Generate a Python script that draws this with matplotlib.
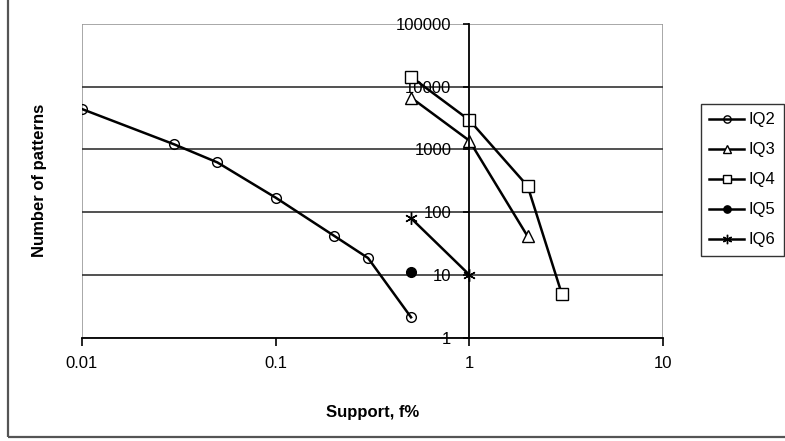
import matplotlib.pyplot as plt
from matplotlib.patches import Rectangle
from matplotlib.ticker import FixedLocator, FixedFormatter

plt.rcParams['font.family'] = ['Liberation Sans', 'DejaVu Sans']

# data (support in %, number of patterns)
iq2_x = [0.01, 0.03, 0.05, 0.1, 0.2, 0.3, 0.5]
iq2_y = [4400, 1200, 620, 170, 42, 18.5, 2.1]
iq3_x = [0.5, 1, 2]
iq3_y = [6700, 1380, 41]
iq4_x = [0.5, 1, 2, 3]
iq4_y = [14400, 2930, 260, 5]
iq5_x = [0.5]
iq5_y = [11]
iq6_x = [0.5, 1]
iq6_y = [80, 10]

x_ticks = [0.01, 0.1, 1, 10]
x_labels = ['0.01', '0.1', '1', '10']
y_ticks = [1, 10, 100, 1000, 10000, 100000]
y_labels = ['1', '10', '100', '1000', '10000', '100000']

W, H = 785, 441
fig = plt.figure(figsize=(W / 100, H / 100), dpi=100)

# outer chart frame (top and right edges are cut off in the original)
fig.patches.append(Rectangle((8 / W, 4 / H), 1.2, 1.2, transform=fig.transFigure,
                             fill=False, edgecolor='#555555', lw=1.6))

ax = fig.add_axes([82 / W, 1 - 337.5 / H, (663 - 82) / W, (337.5 - 24) / H])
ax.set_xscale('log')
ax.set_yscale('log')
ax.set_xlim(0.01, 10)
ax.set_ylim(1, 100000)

line_kw = dict(color='black', lw=1.8, mec='black', mew=1.0)
ax.plot(iq2_x, iq2_y, marker='o', ms=7, mfc='none', label='IQ2', **line_kw)
ax.plot(iq3_x, iq3_y, marker='^', ms=8, mfc='white', label='IQ3', **line_kw)
ax.plot(iq4_x, iq4_y, marker='s', ms=8, mfc='white', label='IQ4', **line_kw)
ax.plot(iq5_x, iq5_y, marker='o', ms=7, mfc='black', label='IQ5', **line_kw)
ax.plot(iq6_x, iq6_y, marker=(6, 2, 0), ms=9, label='IQ6', **line_kw)

# plot area border
ax.add_patch(Rectangle((0, 0), 1, 1, transform=ax.transAxes, fill=False,
                       edgecolor='#9a9a9a', lw=1.2, zorder=0.5))
for s in ['top', 'right']:
    ax.spines[s].set_visible(False)
ax.spines['left'].set_position(('data', 1))
ax.spines['left'].set_color('black')
ax.spines['left'].set_linewidth(1.3)
ax.spines['bottom'].set_linewidth(1.3)

ax.xaxis.set_major_locator(FixedLocator(x_ticks))
ax.xaxis.set_major_formatter(FixedFormatter(x_labels))
ax.xaxis.set_minor_locator(FixedLocator([]))
ax.yaxis.set_major_locator(FixedLocator(y_ticks))
ax.yaxis.set_major_formatter(FixedFormatter(y_labels))
ax.yaxis.set_minor_locator(FixedLocator([]))
ax.tick_params(axis='x', length=6, width=1.2, pad=7, labelsize=12)
ax.tick_params(axis='y', length=4, width=1.2, pad=9, labelsize=12)

for v in y_ticks[1:-1]:
    ax.axhline(v, color='#333333', lw=1.2, zorder=0.6)

ax.set_xlabel('Support, f%', fontsize=12, fontweight='bold', labelpad=25)
fig.text(40 / W, 1 - 180 / H, 'Number of patterns', rotation=90, fontsize=12,
         fontweight='bold', ha='center', va='center')

leg = fig.legend(loc='upper left', bbox_to_anchor=(701 / W, 1 - 104 / H),
                 fontsize=12, frameon=True, fancybox=False, handlelength=2.1,
                 handletextpad=0.25, labelspacing=0.9, borderpad=0.5,
                 borderaxespad=0, markerscale=0.75)
leg.get_frame().set_edgecolor('black')
leg.get_frame().set_linewidth(1.0)

fig.savefig('out.png', dpi=100)
